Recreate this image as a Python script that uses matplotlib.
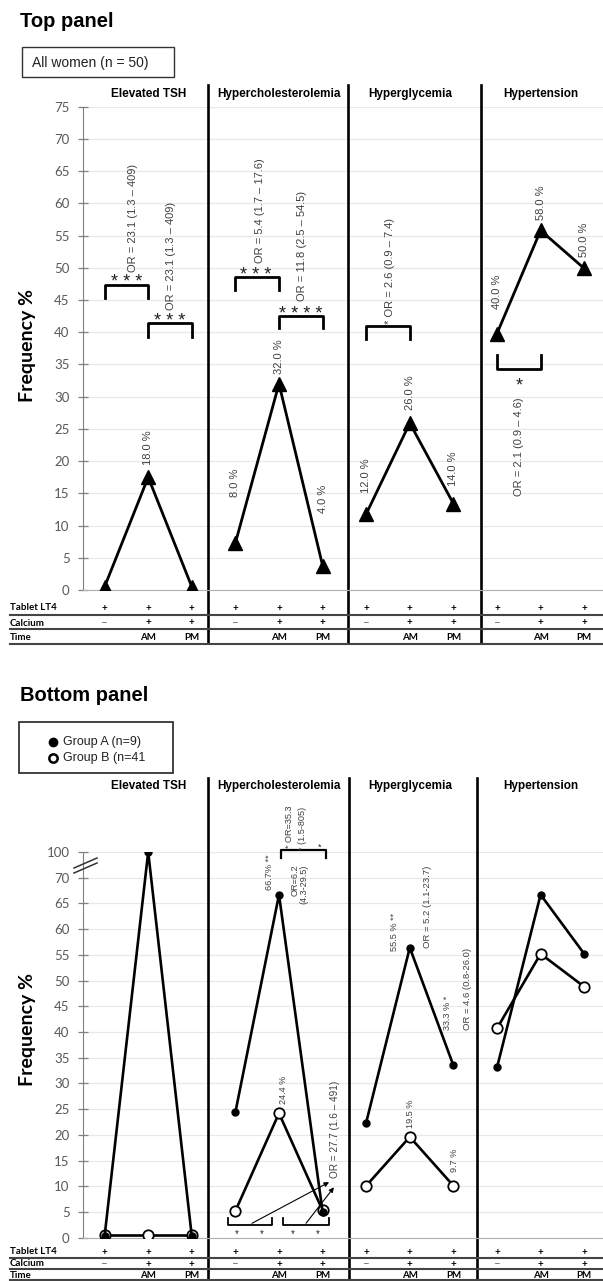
import matplotlib
matplotlib.use("Agg")
import matplotlib.pyplot as plt
import matplotlib.transforms as mtransforms
from matplotlib import font_manager
from matplotlib.patches import Rectangle
from matplotlib.lines import Line2D

conditions = ["Elevated TSH", "Hypercholesterolemia", "Hyperglycemia", "Hypertension"]
row_names = ["Tablet LT4", "Calcium", "Time"]
tablet_row = ["+", "+", "+"]
calcium_row = ["–", "+", "+"]
time_row = ["", "AM", "PM"]
y_ticks = [0, 5, 10, 15, 20, 25, 30, 35, 40, 45, 50, 55, 60, 65, 70, 75]
y_ticks_bot = [0, 5, 10, 15, 20, 25, 30, 35, 40, 45, 50, 55, 60, 65, 70, 100]

# top panel, all women (n = 50): frequency % as drawn
top_tsh = [0.5, 17.5, 0.5]
top_chol = [7.3, 32.0, 3.8]
top_glyc = [11.8, 25.9, 13.4]
top_bp = [39.8, 55.8, 49.9]
top_labels = [["", "18.0 %", ""],
              ["8.0 %", "32.0 %", "4.0 %"],
              ["12.0 %", "26.0 %", "14.0 %"],
              ["40.0 %", "58.0 %", "50.0 %"]]

# bottom panel, group A (n=9) and group B (n=41)
a_tsh = [0.3, 100, 0.3]
a_chol = [24.4, 66.7, 5.0]
a_glyc = [22.4, 56.4, 33.5]
a_bp = [33.1, 66.7, 55.2]
b_tsh = [0.6, 0.6, 0.6]
b_chol = [5.2, 24.2, 5.3]
b_glyc = [10.1, 19.6, 10.1]
b_bp = [40.7, 55.2, 48.8]

names = {f.name for f in font_manager.fontManager.ttflist}
if "Liberation Sans Narrow" in names:
    NARROW, NS = "Liberation Sans Narrow", 1.2
else:
    NARROW, NS = "Liberation Sans", 1.0
plt.rcParams["font.family"] = ["Liberation Sans", "DejaVu Sans"]
GRAY = "#404040"

W, H = 603, 1281
fig = plt.figure(figsize=(W / 100, H / 100), dpi=100)
px = mtransforms.Affine2D().scale(1 / W, -1 / H).translate(0, 1) + fig.transFigure


def ybreak(v):
    # axis is broken between 70 and 100
    return v if v <= 70 else 70 + (v - 70) * 5 / 30


def setup_axes(rect, ticks, labels):
    ax = fig.add_axes(rect)
    ax.set_xlim(-0.502, 11.431)
    ax.set_ylim(0, 75)
    ax.set_xticks([])
    ax.set_yticks(ticks)
    ax.set_yticklabels(labels, fontfamily="Lato", fontsize=9.5, color="#595959")
    ax.tick_params(axis="y", direction="inout", length=7, width=0.9, color="#808080", pad=6)
    for s in ["top", "right"]:
        ax.spines[s].set_visible(False)
    ax.spines["left"].set_color("#808080")
    ax.spines["bottom"].set_color("#b0b0b0")
    ax.yaxis.grid(True, color="#e8e8e8", lw=0.9)
    ax.set_axisbelow(True)
    return ax


def frame(ax, seps, sep_top, sep_bot, title_y, row_y, line_y):
    blend = mtransforms.blended_transform_factory(ax.transData, px)
    for s in seps:
        ax.plot([s, s], [sep_top, sep_bot], transform=blend, color="black", lw=1.9, clip_on=False)
    for g, name in enumerate(conditions):
        ax.text(3 * g + 1, title_y, name, transform=blend, ha="center", va="baseline",
                fontweight="bold", fontsize=8.5)
        for k, row in enumerate([tablet_row, calcium_row, time_row]):
            for i, v in enumerate(row):
                dash = v == "–"
                ax.text(3 * g + i, row_y[k], v, transform=blend, ha="center", va="center",
                        fontfamily="Lato", fontweight="normal" if dash else "bold",
                        fontsize=8.5 if dash else 7,
                        color="#666666" if dash else "black")
    for k, name in enumerate(row_names):
        fig.text(10, row_y[k], name, transform=px, ha="left", va="center",
                 fontfamily="Lato", fontweight="bold", fontsize=7)
        fig.add_artist(Line2D([10, 603], [line_y[k], line_y[k]], transform=px,
                              color="#444444", lw=1.5))


def stars(ax, x, y, s, size):
    ax.annotate(s, (x, y), xytext=(0, -0.58 * size * 100 / 72), textcoords="offset pixels",
                ha="center", va="baseline", fontsize=size, color="#222222", annotation_clip=False)


def vtext(ax, x, y, s, size, va="bottom", **kw):
    ax.text(x, y, s, rotation=90, ha="center", va=va, fontfamily=NARROW,
            fontsize=size * NS, color=GRAY, clip_on=False, **kw)


def bracket(ax, x0, x1, y, leg, lw):
    ax.plot([x0, x0, x1, x1], [leg, y, y, leg], color="black", lw=lw, clip_on=False)


# ---------------- top panel ----------------
fig.text(20, 27, "Top panel", transform=px, fontsize=14.5, fontweight="bold", va="baseline")
fig.add_artist(Rectangle((22, 47), 152, 30, transform=px, fill=False, ec="#333333", lw=1))
fig.text(32, 63, "All women (n = 50)", transform=px, fontsize=10, va="center", color="#222222")

ax1 = setup_axes([82.7 / W, 1 - 590 / H, 1 - 82.7 / W, (590 - 106.7) / H], y_ticks,
                 [str(t) for t in y_ticks])
frame(ax1, [2.37, 5.58, 8.63], 85, 643, 97, [608, 623, 638], [614.5, 629, 643.5])
fig.text(28, 346, "Frequency %", transform=px, rotation=90, ha="center", va="center",
         fontfamily="Lato", fontweight="bold", fontsize=14)

top_dy = [[0, 12, 0], [46, 10, 53], [21, 13, 18], [25, 10, 11]]
for g, vals in enumerate([top_tsh, top_chol, top_glyc, top_bp]):
    xs = [3 * g + i for i in range(3)]
    ax1.plot(xs, vals, color="black", lw=2.0, marker="^", ms=9.5, zorder=3)
    for i in range(3):
        if top_labels[g][i]:
            ax1.annotate(top_labels[g][i], (xs[i], vals[i]), xytext=(0, top_dy[g][i]),
                         textcoords="offset pixels", rotation=90, ha="center", va="bottom",
                         fontfamily=NARROW, fontsize=8 * NS, color=GRAY)

bracket(ax1, 0, 1, 47.3, 45.3, 2.0)
bracket(ax1, 1, 2, 41.4, 39.3, 2.0)
bracket(ax1, 3, 4, 48.5, 46.5, 2.0)
bracket(ax1, 4, 5, 42.5, 40.6, 2.0)
bracket(ax1, 6, 7, 40.9, 39.0, 2.0)
bracket(ax1, 9, 10, 34.3, 36.4, 2.0)
stars(ax1, 0.51, 48.6, "* * *", 13)
stars(ax1, 1.5, 42.6, "* * *", 13)
stars(ax1, 3.47, 49.7, "* * *", 13)
stars(ax1, 4.51, 43.7, "* * * *", 13)
stars(ax1, 9.51, 32.6, "*", 13)
vtext(ax1, 0.65, 49.3, "OR = 23.1 (1.3 – 409)", 8)
vtext(ax1, 1.52, 43.4, "OR = 23.1 (1.3 – 409)", 8)
vtext(ax1, 3.57, 50.7, "OR = 5.4 (1.7 – 17.6)", 8)
vtext(ax1, 4.53, 44.9, "OR = 11.8 (2.5 – 54.5)", 8)
vtext(ax1, 6.55, 41.3, "* OR = 2.6 (0.9 – 7.4)", 8)
vtext(ax1, 9.51, 29.9, "OR = 2.1 (0.9 – 4.6)", 8, va="top")

# ---------------- bottom panel ----------------
fig.text(20, 701, "Bottom panel", transform=px, fontsize=14.5, fontweight="bold", va="baseline")
fig.add_artist(Rectangle((19, 722), 154, 51, transform=px, fill=False, ec="#222222", lw=1.2))
fig.add_artist(Line2D([53], [742], transform=px, marker="o", ms=6, color="black", ls="none"))
fig.add_artist(Line2D([53], [758], transform=px, marker="o", ms=6, mfc="white", mec="black",
                      mew=1.8, ls="none"))
fig.text(63, 742, "Group A (n=9)", transform=px, fontsize=9, va="center", color="#222222")
fig.text(63, 758, "Group B (n=41", transform=px, fontsize=9, va="center", color="#222222")

ax2 = setup_axes([82.7 / W, 1 - 1237.7 / H, 1 - 82.7 / W, (1237.7 - 852) / H],
                 [ybreak(t) for t in y_ticks_bot], [str(t) for t in y_ticks_bot])
frame(ax2, [2.37, 5.60, 8.54], 778, 1280, 789, [1252, 1264, 1275], [1257.5, 1269, 1279.5])
fig.text(28, 1030, "Frequency %", transform=px, rotation=90, ha="center", va="center",
         fontfamily="Lato", fontweight="bold", fontsize=14)
for dy in [0, 5]:
    fig.add_artist(Line2D([74, 97], [868 + dy, 858 + dy], transform=px, color="#333333", lw=1.1))

for g, (va_, vb_) in enumerate(zip([a_tsh, a_chol, a_glyc, a_bp], [b_tsh, b_chol, b_glyc, b_bp])):
    xs = [3 * g + i for i in range(3)]
    ax2.plot(xs, [ybreak(v) for v in vb_], color="black", lw=1.9, marker="o", ms=7.5,
             mfc="white", mec="black", mew=1.3, zorder=3)
    ax2.plot(xs, [ybreak(v) for v in va_], color="black", lw=1.9, marker="o", ms=5, zorder=4)

bot_labels = [(a_chol, 4, 1, "66.7% **", -9, 5), (b_chol, 4, 1, "24.4 %", 5, 9),
              (a_glyc, 7, 1, "55.5 % **", -15, -3), (b_glyc, 7, 1, "19.5 %", 1, 9),
              (a_glyc, 8, 2, "33.3 % *", -6, 35), (b_glyc, 8, 2, "9.7 %", 1, 14)]
for vals, x, i, s, dx, dy in bot_labels:
    ax2.annotate(s, (x, ybreak(vals[i])), xytext=(dx, dy), textcoords="offset pixels",
                 rotation=90, ha="center", va="bottom", fontfamily=NARROW,
                 fontsize=6.6 * NS, color=GRAY)

vtext(ax2, 7.4, 56.4, "OR = 5.2 (1.1-23.7)", 6.8)
vtext(ax2, 8.33, 40.4, "OR = 4.6 (0.8-26.0)", 6.8)
vtext(ax2, 5.29, 11.6, "OR = 27.7 (1.6 – 491)", 7.2)
vtext(ax2, 4.47, 72.5, "OR=6.2\n(4.3-29.5)", 6.6, va="top", multialignment="right", linespacing=1.0)
vtext(ax2, 4.23, 75.8, "* OR=35.3", 6.6)
vtext(ax2, 4.55, 75.4, "* (1.5-805)", 6.6)
stars(ax2, 4.94, 76.4, "*", 6.6)
bracket(ax2, 4.05, 5.08, 75.4, 73.9, 1.6)

bracket(ax2, 2.82, 3.85, 2.5, 3.9, 1.3)
bracket(ax2, 4.1, 5.15, 2.5, 3.9, 1.3)
for x in [3.04, 3.61, 4.32, 4.9]:
    stars(ax2, x, 1.2, "*", 7)
for start, end in [((3.38, 2.8), (5.15, 10.8)), ((4.62, 2.8), (5.26, 9.8))]:
    ax2.annotate("", xy=end, xytext=start,
                 arrowprops=dict(arrowstyle="-|>", lw=0.8, color="black", mutation_scale=7,
                                 shrinkA=0, shrinkB=0))

fig.savefig("out.png", dpi=100)
